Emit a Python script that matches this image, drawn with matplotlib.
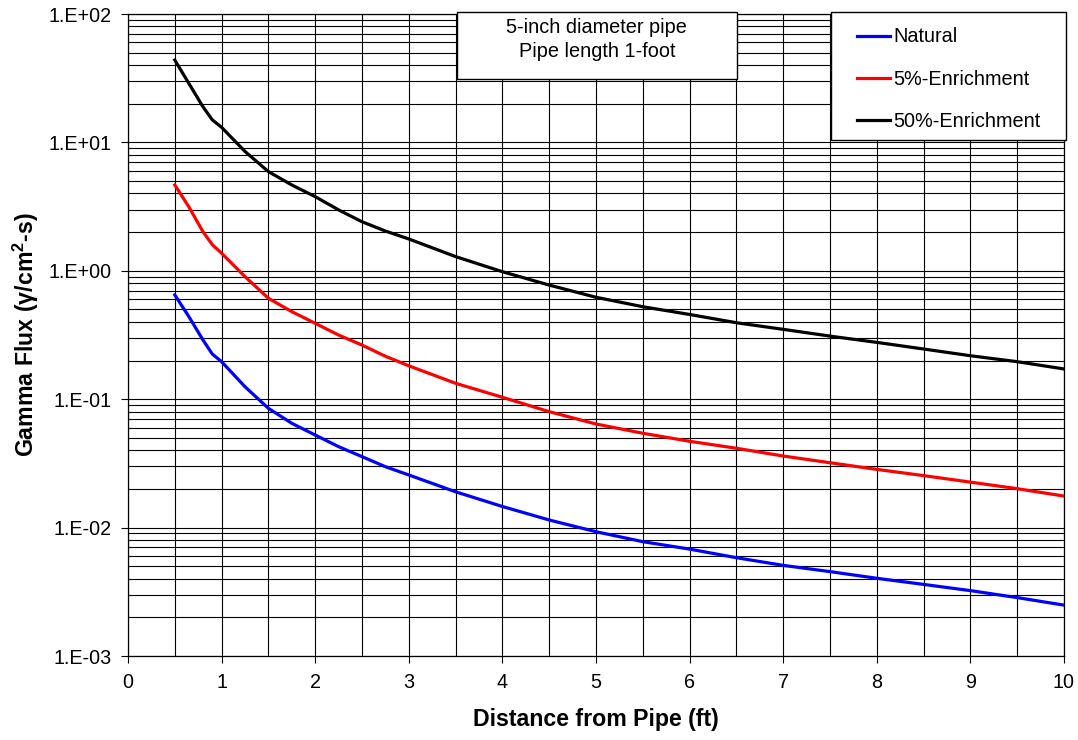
import numpy as np
import matplotlib
matplotlib.use("Agg")
import matplotlib.pyplot as plt
from matplotlib.ticker import FixedLocator, FuncFormatter, LogLocator, NullFormatter
from matplotlib.patches import Rectangle

plt.rcParams['font.family'] = ['Liberation Sans', 'DejaVu Sans']
plt.rcParams['mathtext.fontset'] = 'custom'
plt.rcParams['mathtext.rm'] = 'Liberation Sans'
plt.rcParams['mathtext.bf'] = 'Liberation Sans:bold'

# distance from pipe (ft)
dist = [0.5, 0.65, 0.8, 0.9, 1.0, 1.25, 1.5, 1.75, 2.0, 2.25, 2.5, 2.75, 3.0, 3.5,
        4.0, 4.5, 5.0, 5.5, 6.0, 6.5, 7.0, 7.5, 8.0, 8.5, 9.0, 9.5, 10.0]

# gamma flux
natural = [0.649, 0.44, 0.29, 0.225, 0.196, 0.125, 0.0849, 0.0649, 0.0526, 0.0427,
           0.0357, 0.0298, 0.0257, 0.0190, 0.0146, 0.01146, 0.00929, 0.00777, 0.0068,
           0.00583, 0.00508, 0.00454, 0.00403, 0.00361, 0.00323, 0.00285, 0.00249]
enr5 = [4.66, 3.15, 2.02, 1.60, 1.37, 0.90, 0.611, 0.481, 0.390, 0.316, 0.264, 0.216,
        0.182, 0.133, 0.1035, 0.080, 0.0641, 0.0543, 0.047, 0.0415, 0.0361, 0.0320,
        0.0284, 0.0254, 0.0226, 0.0201, 0.0176]
enr50 = [43.8, 28.8, 19.0, 15.0, 13.1, 8.5, 5.92, 4.66, 3.78, 2.98, 2.41, 2.04, 1.77,
         1.29, 0.984, 0.774, 0.622, 0.525, 0.457, 0.394, 0.350, 0.310, 0.277, 0.246,
         0.218, 0.196, 0.172]

labels = ['Natural', '5%-Enrichment', '50%-Enrichment']
colors = ['#0000FF', '#FF0000', '#000000']
note = '5-inch diameter pipe\nPipe length 1-foot'

fig = plt.figure(figsize=(10.78, 7.4), dpi=100)
ax = fig.add_axes([128/1078, 1-656/740, 936/1078, 642/740])

for y, lab, c in zip([natural, enr5, enr50], labels, colors):
    ax.plot(dist, y, color=c, lw=2.3, label=lab, zorder=3)

ax.set_yscale('log')
ax.set_ylim(1e-3, 1e2)
ax.set_xlim(0, 10)

ax.xaxis.set_major_locator(FixedLocator(np.arange(0, 11, 1)))
ax.xaxis.set_minor_locator(FixedLocator(np.arange(0.5, 10, 1)))
ax.yaxis.set_major_locator(LogLocator(base=10, numticks=20))
ax.yaxis.set_minor_locator(LogLocator(base=10, subs=np.arange(2, 10), numticks=20))
ax.yaxis.set_minor_formatter(NullFormatter())
ax.yaxis.set_major_formatter(FuncFormatter(lambda v, p: '1.E%+03d' % int(round(np.log10(v)))))

ax.grid(True, which='both', color='black', lw=0.8)
ax.tick_params(axis='both', which='major', direction='out', length=5, width=0.8,
               labelsize=14.2, pad=7)
ax.tick_params(axis='both', which='minor', length=0)
for s in ax.spines.values():
    s.set_color('black')
    s.set_linewidth(0.9)

ax.set_xlabel('Distance from Pipe (ft)', fontsize=16.7, fontweight='bold', labelpad=12)
ax.set_ylabel('Gamma Flux (γ/cm$^{\\mathbf{2}}$-s)', fontsize=16.7, fontweight='bold', labelpad=5)

# note box
ax.add_patch(Rectangle((0.3515, 0.8988), 0.299, 0.1044, transform=ax.transAxes,
                       facecolor='white', edgecolor='black', lw=1, clip_on=False, zorder=4))
ax.text(0.501, 0.960, note, transform=ax.transAxes, ha='center', va='center',
        fontsize=14.3, linespacing=1.3, zorder=5)

# legend box
ax.add_patch(Rectangle((0.751, 0.8037), 0.251, 0.1994, transform=ax.transAxes,
                       facecolor='white', edgecolor='black', lw=1, clip_on=False, zorder=4))
leg = ax.legend(loc='upper left', bbox_to_anchor=(0.7788, 0.979), frameon=False,
                fontsize=14.3, handlelength=1.65, handletextpad=0.2, labelspacing=1.18,
                borderpad=0, borderaxespad=0)
leg.set_zorder(6)

fig.savefig('out.png', dpi=100)
